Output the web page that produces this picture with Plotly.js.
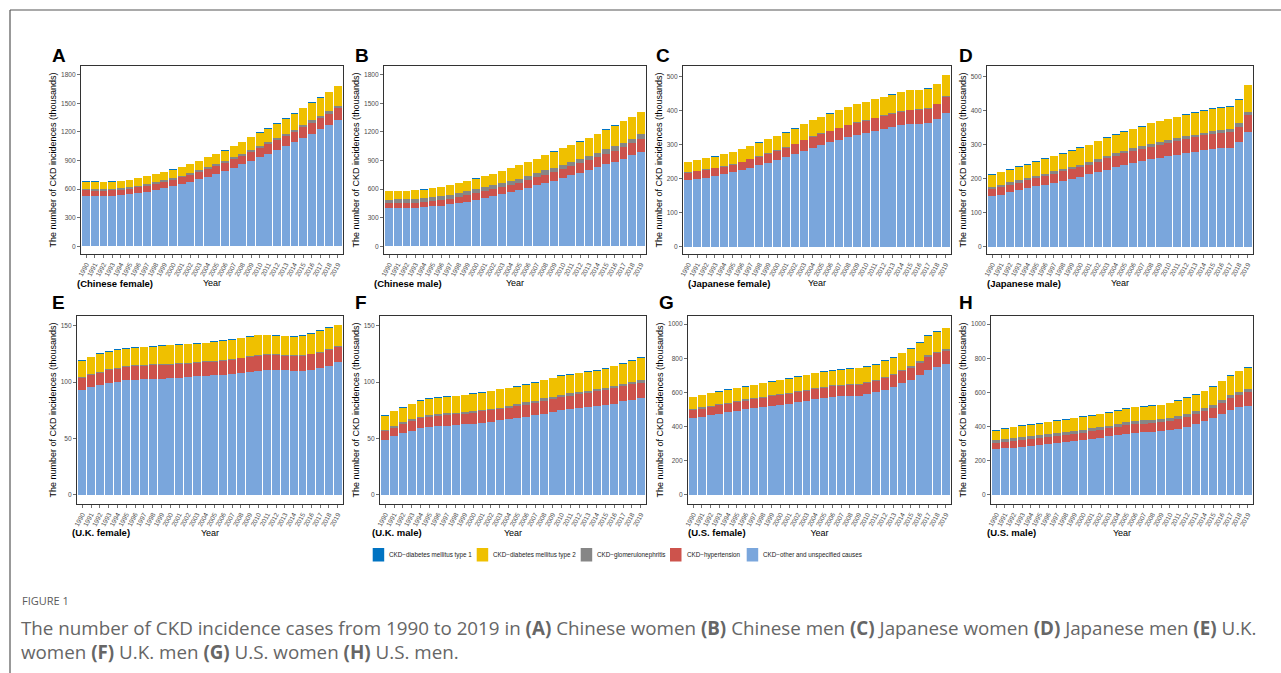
<!DOCTYPE html>
<html><head><meta charset="utf-8">
<script src="https://cdn.plot.ly/plotly-3.0.1.min.js"></script>
<style>html,body{margin:0;padding:0;background:#fff;overflow:hidden}#chart{width:1281px;height:673px}</style>
</head><body><div id="chart"></div>
<script>
const years = [1990,1991,1992,1993,1994,1995,1996,1997,1998,1999,2000,2001,2002,2003,2004,2005,2006,2007,2008,2009,2010,2011,2012,2013,2014,2015,2016,2017,2018,2019];
const yearLabels = years.map(String);
// stacking order bottom -> top
const seriesNames = ["CKD−other and unspecified causes","CKD−hypertension","CKD−glomerulonephritis","CKD−diabetes mellitus type 2","CKD−diabetes mellitus type 1"];
const seriesColors = ["#7AA6DC","#CD534C","#868686","#EFC000","#0073C2"];
const legendOrder = [4,3,2,1,0];
const panelLetters = ["A","B","C","D","E","F","G","H"];
const panelGroups = ["(Chinese female)","(Chinese male)","(Japanese female)","(Japanese male)","(U.K. female)","(U.K. male)","(U.S. female)","(U.S. male)"];
const yTitle = "The number of CKD incidences (thousands)";
const xTitle = "Year";
const ticksChina = [0,300,600,900,1200,1500,1800];
const ticksJapan = [0,100,200,300,400,500];
const ticksUK = [0,50,100,150];
const ticksUS = [0,200,400,600,800,1000];

// A: Chinese female
const A_other = [528,527,527,530,535,545,558,573,590,610,630,652,676,702,730,758,790,826,860,898,935,970,1010,1050,1090,1135,1180,1225,1270,1320];
const A_hyp   = [58,58,58,58,59,60,62,64,66,68,70,72,74,77,80,83,86,89,92,95,98,101,104,107,110,113,116,119,122,125];
const A_glom  = [17,17,17,17,17,17,17,18,18,18,18,18,18,19,19,19,19,20,20,20,21,21,21,22,22,23,23,24,24,25];
const A_t2    = [74,75,73,72,73,75,75,79,81,84,87,88,94,97,103,106,109,114,122,128,136,142,149,157,168,177,184,190,199,208];
const A_t1    = [3,3,3,3,3,3,3,3,3,3,3,3,3,3,3,4,4,4,4,4,4,4,4,4,5,5,5,5,5,5];
// B: Chinese male
const B_other = [400,401,402,405,410,418,428,440,455,470,490,508,528,548,568,590,612,638,665,690,718,745,772,800,828,858,888,920,955,994];
const B_hyp   = [50,51,52,53,54,56,58,60,62,64,66,68,70,73,76,79,82,85,88,91,94,97,100,104,108,112,116,121,126,135];
const B_glom  = [40,40,40,40,40,40,40,40,40,41,41,41,41,42,42,42,42,43,43,43,44,44,44,45,45,46,46,47,47,48];
const B_t2    = [92,90,88,89,90,93,96,102,105,110,112,117,120,126,133,138,146,151,159,168,171,176,181,188,196,206,215,224,229,233];
const B_t1    = [3,3,3,3,3,3,3,3,3,3,3,3,3,3,3,3,3,3,3,3,3,3,3,3,3,3,3,3,3,3];
// C: Japanese female
const C_other = [195,199,203,207,212,218,224,231,239,246,254,262,272,282,291,299,306,314,321,327,333,339,345,351,356,360,360,363,375,394];
const C_hyp   = [21,22,22,23,23,23,24,25,25,26,27,28,29,30,31,32,33,34,35,36,37,38,39,40,41,41,42,42,43,46];
const C_glom  = [2,2,2,2,2,2,2,2,2,2,2,2,2,2,2,2,2,2,2,2,2,2,2,2,2,2,2,2,2,3];
const C_t2    = [30,31,32,32,34,35,37,38,39,41,41,43,44,46,48,48,50,51,52,53,53,54,54,54,55,56,56,57,58,61];
const C_t1    = [1,1,1,1,1,1,1,1,1,1,1,1,1,1,1,1,1,1,1,1,1,1,1,1,1,1,1,1,1,1];
// D: Japanese male
const D_other = [148,153,159,165,171,177,182,188,194,200,205,212,218,226,233,239,245,251,256,260,265,270,275,279,284,287,289,291,307,336];
const D_hyp   = [21,22,23,23,24,24,25,26,27,27,28,29,31,33,34,35,36,37,38,39,40,41,41,42,43,43,44,45,46,52];
const D_glom  = [7,7,7,7,7,7,7,7,7,7,7,7,7,8,8,8,8,8,8,8,8,8,8,8,8,9,9,9,9,9];
const D_t2    = [34,36,37,39,39,42,44,44,45,47,50,50,53,52,53,55,56,57,60,61,61,61,63,65,65,66,65,66,70,77];
const D_t1    = [2,2,2,2,2,2,2,2,2,2,2,2,2,2,2,2,2,2,2,2,2,2,2,2,2,2,2,2,2,2];
// E: U.K. female
const E_other = [93,95.5,97.5,99,100.5,101.5,102,102.5,103,103,103.5,104,104.5,105,105.5,106,106.5,107,108,109,110,111,111,110.5,110,110,111,112.5,114.5,117.5];
const E_hyp   = [10.5,11,11,11.5,11.5,12,12,12,12,12,12,12,12,12,12,12,12,12.5,13,13,13,13,13,13,13,13,13.5,13.5,14,13.5];
const E_glom  = [0.8,0.8,0.8,0.8,0.8,0.8,0.8,0.8,0.8,0.8,0.8,0.8,0.8,0.8,0.8,0.8,0.8,0.8,0.8,0.8,0.8,0.8,0.8,0.8,0.8,0.8,0.8,0.8,0.8,0.8];
const E_t2    = [14.7,14.7,15.7,15.7,15.7,15.2,15.7,15.7,15.7,16.2,16.2,16.2,16.2,16.2,16.2,17.2,17.2,17.2,17.2,17.2,17.7,16.7,16.2,16.2,16.2,17.2,17.7,18.7,18.7,18.7];
const E_t1    = [0.5,0.5,0.5,0.5,0.5,0.5,0.5,0.5,0.5,0.5,0.5,0.5,0.5,0.5,0.5,0.5,0.5,0.5,0.5,0.5,0.5,0.5,0.5,0.5,0.5,0.5,0.5,0.5,0.5,0.5];
// F: U.K. male
const F_other = [49,52,55,57,59,60,61,61.5,62,62.5,63,64,65,66,67,68,69,70.5,72,73.5,75,76,77,78,79,80,81,83,84.5,86];
const F_hyp   = [7.5,7.5,8,8.5,9,9,9,9.5,9.5,9.5,9.5,10,10,10,10.5,10.5,11,11,11.5,11.5,12,12,12.5,12.5,13,13,13.5,13.5,13.5,13.5];
const F_glom  = [1.5,1.5,1.5,1.5,1.5,1.5,1.5,1.5,1.5,1.5,1.5,1.5,1.5,1.5,1.5,2,2,2,2,2,2,2,2,2,2,2,2,2,2,2];
const F_t2    = [12,13,13,13.5,14,14.5,14.5,14.5,14.5,15,15.5,15,15.5,16,15.5,15.5,15.5,16,16,16.5,16.5,16.5,16.5,16.5,16,17,17.5,18,19,20];
const F_t1    = [0.5,0.5,0.5,0.5,0.5,0.5,0.5,0.5,0.5,0.5,0.5,0.5,0.5,0.5,0.5,0.5,0.5,0.5,0.5,0.5,0.5,0.5,0.5,0.5,0.5,0.5,0.5,0.5,0.5,0.5];
// G: U.S. female
const G_other = [450,458,468,476,483,492,500,507,515,522,528,535,543,551,559,567,574,577,579,581,588,600,616,633,653,673,700,733,750,765];
const G_hyp   = [46,47,48,49,50,51,52,53,54,55,56,57,58,58,59,60,61,62,63,64,65,66,67,68,70,72,74,76,78,80];
const G_glom  = [7,7,7,7,7,7,7,7,7,7,7,7,7,7,7,7,7,7,7,7,8,8,8,8,8,8,8,8,8,8];
const G_t2    = [68,71,72,73,76,75,75,76,77,79,81,82,83,85,87,87,86,87,87,88,87,89,92,95,98,102,108,112,118,121];
const G_t1    = [3,3,3,3,3,3,3,3,3,3,3,3,3,3,3,4,4,4,4,4,4,4,4,4,4,5,5,5,5,5];
// H: U.S. male
const H_other = [267,272,277,282,287,292,297,303,309,315,320,327,334,342,350,358,364,367,369,372,378,388,400,415,432,448,471,496,512,523];
const H_hyp   = [35,36,37,38,38,39,40,41,42,43,44,45,46,47,48,49,50,51,52,53,54,55,57,59,61,63,66,70,74,78];
const H_glom  = [17,17,17,17,17,17,17,17,17,17,17,17,17,17,17,18,18,18,18,18,18,18,18,18,18,18,19,19,19,19];
const H_t2    = [58,62,65,67,68,70,71,72,71,74,75,75,74,75,78,80,81,81,82,83,86,91,93,94,95,103,109,111,118,122];
const H_t1    = [3,3,3,3,3,3,3,3,3,3,3,3,3,3,3,3,3,3,3,3,4,4,4,4,4,4,4,4,4,4];

const panelData = [
  [A_other,A_hyp,A_glom,A_t2,A_t1],[B_other,B_hyp,B_glom,B_t2,B_t1],
  [C_other,C_hyp,C_glom,C_t2,C_t1],[D_other,D_hyp,D_glom,D_t2,D_t1],
  [E_other,E_hyp,E_glom,E_t2,E_t1],[F_other,F_hyp,F_glom,F_t2,F_t1],
  [G_other,G_hyp,G_glom,G_t2,G_t1],[H_other,H_hyp,H_glom,H_t2,H_t1]
];
const panelTicks = [ticksChina,ticksChina,ticksJapan,ticksJapan,ticksUK,ticksUK,ticksUS,ticksUS];

// ---------- layout geometry (pixels) ----------
const W = 1281, H = 673;
const fx = x => x / W, fy = y => 1 - y / H;
const boxes = [
  [81,343,66,254],[384,646,66,254],[683,951,66,254],[987,1253,66,254],
  [77,343,316,504],[380,646,316,504],[688,951,316,504],[991,1253,316,504]
];
const yRanges = [[-80,1890],[-80,1890],[-22,531],[-22,531],[-8,158.6],[-8,158.6],[-53,1047],[-53,1047]];
const letterPos = [[50,55],[353,55],[654,55],[957,55],[50,302],[353,302],[657,302],[957,302]];
const groupPos = [[75,283],[372,283],[686,283],[985,283],[70,532],[370,532],[686,532],[985,532]];

const traces = [];
const layout = {
  width: W, height: H, margin: {l:0,r:0,t:0,b:0},
  paper_bgcolor: "#fff", plot_bgcolor: "#fff",
  barmode: "stack", showlegend: false,
  font: {family: "Liberation Sans, Arial, sans-serif", color: "#000"},
  annotations: [], shapes: []
};
const tickFont = {family: "Liberation Sans, Arial, sans-serif", size: 6.6, color: "#4d4d4d"};
for (let p = 0; p < 8; p++) {
  const suf = p === 0 ? "" : String(p + 1);
  const b = boxes[p];
  for (let s = 0; s < 5; s++) {
    traces.push({
      type: "bar", x: years, y: panelData[p][s], name: seriesNames[s],
      xaxis: "x" + suf, yaxis: "y" + suf, width: 0.9,
      marker: {color: seriesColors[s], line: {width: 0}},
      showlegend: false
    });
  }
  layout["xaxis" + suf] = {
    domain: [fx(b[0]), fx(b[1])], anchor: "y" + suf,
    range: [1989.4, 2019.6], tickmode: "array", tickvals: years, ticktext: yearLabels,
    tickangle: -62, tickfont: tickFont, ticks: "outside", ticklen: 3, tickwidth: 0.7, tickcolor: "#333",
    showline: true, mirror: true, linecolor: "#333", linewidth: 1,
    showgrid: false, zeroline: false, fixedrange: true,
    title: {text: xTitle, font: {size: 9, color: "#000"}, standoff: 1}
  };
  layout["yaxis" + suf] = {
    domain: [fy(b[3]), fy(b[2])], anchor: "x" + suf,
    range: yRanges[p], tickmode: "array", tickvals: panelTicks[p],
    tickfont: tickFont, ticks: "outside", ticklen: 3, tickwidth: 0.7, tickcolor: "#333",
    showline: true, mirror: true, linecolor: "#333", linewidth: 1,
    showgrid: false, zeroline: false, fixedrange: true,
    title: {text: yTitle, font: {size: 9, color: "#000"}, standoff: 2}
  };
  layout.annotations.push({
    xref: "paper", yref: "paper", x: fx(letterPos[p][0]), y: fy(letterPos[p][1]),
    xanchor: "left", yanchor: "middle", showarrow: false,
    text: "<b>" + panelLetters[p] + "</b>", font: {size: 19, color: "#000"}
  });
  layout.annotations.push({
    xref: "paper", yref: "paper", x: fx(groupPos[p][0]), y: fy(groupPos[p][1]),
    xanchor: "left", yanchor: "middle", showarrow: false,
    text: "<b>" + panelGroups[p] + "</b>", font: {size: 9.5, color: "#000"}
  });
}

// legend (manual, horizontal)
const legSq = [372.7, 476.7, 580.7, 670, 746.7];
legendOrder.forEach((s, i) => {
  layout.shapes.push({type: "rect", xref: "paper", yref: "paper",
    x0: fx(legSq[i]), x1: fx(legSq[i] + 11.5), y0: fy(561.5), y1: fy(548),
    fillcolor: seriesColors[s], line: {width: 0}});
  layout.annotations.push({xref: "paper", yref: "paper", x: fx(legSq[i] + 14.5), y: fy(555),
    xanchor: "left", yanchor: "middle", showarrow: false,
    text: seriesNames[s], font: {size: 6.3, color: "#1a1a1a"}});
});

// frame
layout.shapes.push({type: "line", xref: "paper", yref: "paper", x0: fx(10), x1: fx(10), y0: fy(10), y1: -0.01, line: {color: "#555", width: 1.2}});
layout.shapes.push({type: "line", xref: "paper", yref: "paper", x0: fx(10), x1: 1.01, y0: fy(10), y1: fy(10), line: {color: "#555", width: 1.2}});

// caption
const capFont = {family: "Open Sans, sans-serif", size: 18.8, color: "#666666"};
layout.annotations.push({xref: "paper", yref: "paper", x: fx(20), y: fy(600), xanchor: "left", yanchor: "middle", showarrow: false,
  text: "FIGURE 1", font: {family: "Open Sans, sans-serif", size: 11, color: "#5a5a5a"}});
layout.annotations.push({xref: "paper", yref: "paper", x: fx(19), y: fy(628), xanchor: "left", yanchor: "middle", showarrow: false,
  text: "The number of CKD incidence cases from 1990 to 2019 in <b>(A)</b> Chinese women <b>(B)</b> Chinese men <b>(C)</b> Japanese women <b>(D)</b> Japanese men <b>(E)</b> U.K.",
  font: capFont});
layout.annotations.push({xref: "paper", yref: "paper", x: fx(19), y: fy(652), xanchor: "left", yanchor: "middle", showarrow: false,
  text: "women <b>(F)</b> U.K. men <b>(G)</b> U.S. women <b>(H)</b> U.S. men.", font: capFont});

Plotly.newPlot("chart", traces, layout, {displayModeBar: false, staticPlot: true});
</script></body></html>
